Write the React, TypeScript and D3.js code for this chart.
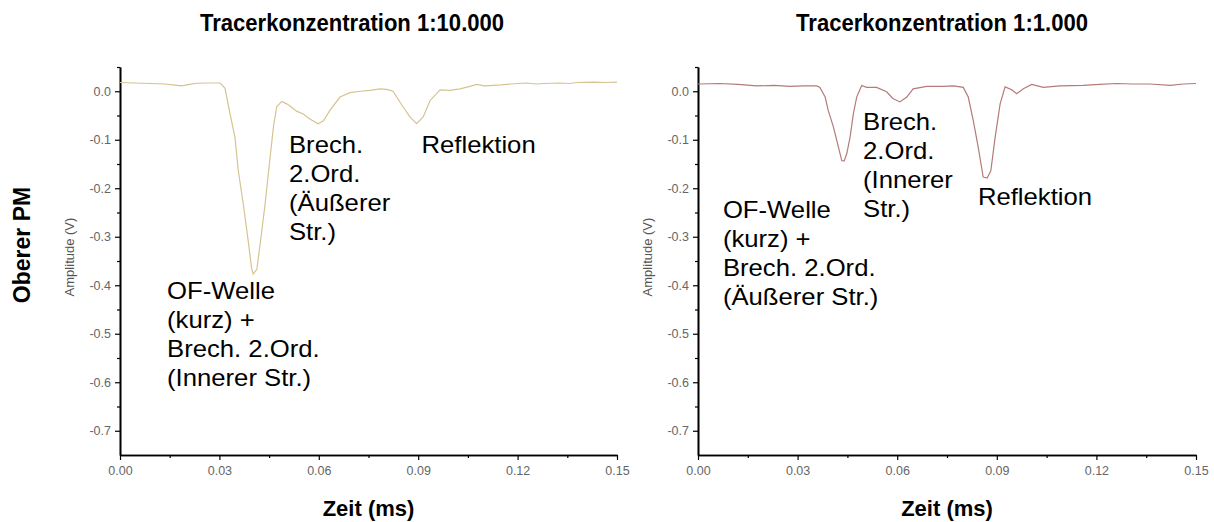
import React, { useEffect, useRef } from 'react'
import * as d3 from 'd3'

// Tracer 1:10.000 (upper PM), time in ms, amplitude in V
const timeA = [0.0, 0.0045, 0.0091, 0.0135, 0.0160, 0.0186, 0.0210, 0.0231, 0.0265, 0.0302, 0.0317, 0.0332, 0.0347, 0.0357, 0.0372, 0.0387, 0.0397, 0.0402, 0.0413, 0.0423, 0.0438, 0.0451, 0.0463, 0.0473, 0.0488, 0.0503, 0.0518, 0.0533, 0.0553, 0.0573, 0.0598, 0.0614, 0.0634, 0.0664, 0.0694, 0.0725, 0.0754, 0.0785, 0.0805, 0.0824, 0.0854, 0.0875, 0.0895, 0.0915, 0.0936, 0.0966, 0.0995, 0.1026, 0.1050, 0.1077, 0.1100, 0.1126, 0.1150, 0.1180, 0.1227, 0.1255, 0.1280, 0.1328, 0.1355, 0.1380, 0.1428, 0.1465, 0.15]
const ampA = [0.018, 0.017, 0.016, 0.015, 0.013, 0.011, 0.014, 0.0165, 0.017, 0.017, 0.006, -0.046, -0.095, -0.164, -0.232, -0.309, -0.364, -0.377, -0.367, -0.315, -0.232, -0.149, -0.074, -0.032, -0.021, -0.026, -0.033, -0.041, -0.047, -0.057, -0.067, -0.061, -0.039, -0.012, -0.003, 0.0, 0.002, 0.005, 0.004, 0.0, -0.032, -0.053, -0.067, -0.053, -0.019, 0.003, 0.002, 0.005, 0.009, 0.014, 0.011, 0.012, 0.013, 0.015, 0.017, 0.015, 0.016, 0.017, 0.016, 0.018, 0.019, 0.018, 0.019]

// Tracer 1:1.000
const timeB = [0.0, 0.0066, 0.0120, 0.0177, 0.0230, 0.0277, 0.0320, 0.0358, 0.0367, 0.0383, 0.0392, 0.0408, 0.0423, 0.0433, 0.044, 0.0448, 0.0458, 0.0468, 0.0478, 0.0493, 0.0508, 0.0538, 0.0568, 0.0587, 0.0608, 0.0629, 0.0648, 0.0689, 0.0739, 0.0770, 0.0799, 0.0814, 0.0829, 0.0844, 0.0859, 0.0871, 0.0882, 0.0895, 0.091, 0.0925, 0.0945, 0.096, 0.098, 0.1005, 0.104, 0.109, 0.116, 0.1210, 0.1261, 0.1310, 0.1361, 0.1422, 0.1461, 0.15]
const ampB = [0.015, 0.016, 0.014, 0.011, 0.012, 0.01, 0.011, 0.011, 0.008, -0.012, -0.039, -0.074, -0.115, -0.143, -0.144, -0.129, -0.095, -0.046, -0.012, 0.012, 0.008, 0.008, -0.001, -0.015, -0.022, -0.012, 0.005, 0.01, 0.01, 0.011, 0.008, -0.012, -0.06, -0.115, -0.177, -0.179, -0.164, -0.095, -0.026, 0.009, 0.003, -0.005, 0.005, 0.014, 0.008, 0.011, 0.012, 0.014, 0.016, 0.015, 0.015, 0.012, 0.015, 0.016]

const xTicks = [0, 0.03, 0.06, 0.09, 0.12, 0.15]
const xTickLabels = ['0.00', '0.03', '0.06', '0.09', '0.12', '0.15']
const xMinor = [0.015, 0.045, 0.075, 0.105, 0.135]
const yTicks = [0, -0.1, -0.2, -0.3, -0.4, -0.5, -0.6, -0.7]
const yTickLabels = ['0.0', '-0.1', '-0.2', '-0.3', '-0.4', '-0.5', '-0.6', '-0.7']
const yMinor = [0.05, -0.05, -0.15, -0.25, -0.35, -0.45, -0.55, -0.65]

const titles = ['Tracerkonzentration 1:10.000', 'Tracerkonzentration 1:1.000']

// annotation text: lines, anchor in data coords
const notesA = [
  { lines: ['Brech.', '2.Ord.', '(Äußerer', 'Str.)'], t: 0.051, v: -0.128 },
  { lines: ['Reflektion'], t: 0.091, v: -0.128 },
  { lines: ['OF-Welle', '(kurz) +', 'Brech. 2.Ord.', '(Innerer Str.)'], t: 0.0142, v: -0.428 },
]
const notesB = [
  { lines: ['Brech.', '2.Ord.', '(Innerer', 'Str.)'], t: 0.0497, v: -0.08 },
  { lines: ['Reflektion'], t: 0.0843, v: -0.235 },
  { lines: ['OF-Welle', '(kurz) +', 'Brech. 2.Ord.', '(Äußerer Str.)'], t: 0.0075, v: -0.262 },
]

const FONT = '"Liberation Sans", Arial, sans-serif'

function drawPanel(svg: any, left: number, right: number, time: number[], amp: number[], color: string, title: string, titleX: number, notes: any[]) {
  let x = d3.scaleLinear().domain([0, 0.15]).range([left, right])
  let y = d3.scaleLinear().domain([-0.75, 0.05]).range([455, 67])
  let g = svg.append('g')

  // minor ticks first, then major with labels
  g.append('g').attr('transform', 'translate(0,' + y(-0.75) + ')')
    .call(d3.axisBottom(x).tickValues(xMinor).tickSize(3).tickSizeOuter(0).tickFormat(() => ''))
  g.append('g').attr('transform', 'translate(0,' + y(-0.75) + ')')
    .call(d3.axisBottom(x).tickValues(xTicks).tickSize(5).tickSizeOuter(0).tickPadding(6)
      .tickFormat((d: any, i: number) => xTickLabels[i]))
  g.append('g').attr('transform', 'translate(' + left + ',0)')
    .call(d3.axisLeft(y).tickValues(yMinor).tickSize(3).tickSizeOuter(0).tickFormat(() => ''))
  g.append('g').attr('transform', 'translate(' + left + ',0)')
    .call(d3.axisLeft(y).tickValues(yTicks).tickSize(5).tickSizeOuter(0).tickPadding(4)
      .tickFormat((d: any, i: number) => yTickLabels[i]))

  g.selectAll('.domain').attr('stroke', '#000').attr('stroke-width', 1.6)
  g.selectAll('.tick line').attr('stroke', '#000').attr('stroke-width', 1.2)
  g.selectAll('.tick text').attr('fill', '#666').style('font-family', FONT).style('font-size', '12.5px')

  let line = d3.line<number>().x((d, i) => x(time[i])).y((d) => y(d))
  g.append('path').datum(amp).attr('d', line).attr('fill', 'none')
    .attr('stroke', color).attr('stroke-width', 1.2)

  let mid = (left + right) / 2
  g.append('text').attr('transform', 'translate(' + titleX + ',31) scale(0.92,1)').attr('text-anchor', 'middle')
    .style('font-family', FONT).style('font-size', '24px').style('font-weight', 'bold').text(title)
  g.append('text').attr('x', mid).attr('y', 516).attr('text-anchor', 'middle')
    .style('font-family', FONT).style('font-size', '22px').style('font-weight', 'bold').text('Zeit (ms)')
  g.append('text').attr('transform', 'translate(' + (left - 46) + ',' + 257 + ') rotate(-90)')
    .attr('text-anchor', 'middle').attr('fill', '#555')
    .style('font-family', FONT).style('font-size', '13px').text('Amplitude (V)')

  notes.forEach(function(n) {
    let t = g.append('text').attr('transform', 'translate(' + x(n.t) + ',' + y(n.v) + ') scale(1.07,1)')
      .style('font-family', FONT).style('font-size', '24px')
    n.lines.forEach(function(s: string, i: number) {
      t.append('tspan').attr('x', 0).attr('dy', i == 0 ? 0 : 29).text(s)
    })
  })
}

export default function App() {
  const ref = useRef<SVGSVGElement>(null)

  useEffect(() => {
    let svg = d3.select(ref.current)
    svg.selectAll('*').remove()
    drawPanel(svg, 120, 617, timeA, ampA, '#d6c38f', titles[0], 352, notesA)
    drawPanel(svg, 698, 1196, timeB, ampB, '#b27c78', titles[1], 942, notesB)

    svg.append('text').attr('transform', 'translate(30,245) rotate(-90)')
      .attr('text-anchor', 'middle')
      .style('font-family', FONT).style('font-size', '23px').style('font-weight', 'bold')
      .text('Oberer PM')
  }, [])

  return (
    <div>
      <style>{'body{margin:0}'}</style>
      <svg ref={ref} width={1214} height={522} style={{ display: 'block', background: '#fff' }} />
    </div>
  )
}
